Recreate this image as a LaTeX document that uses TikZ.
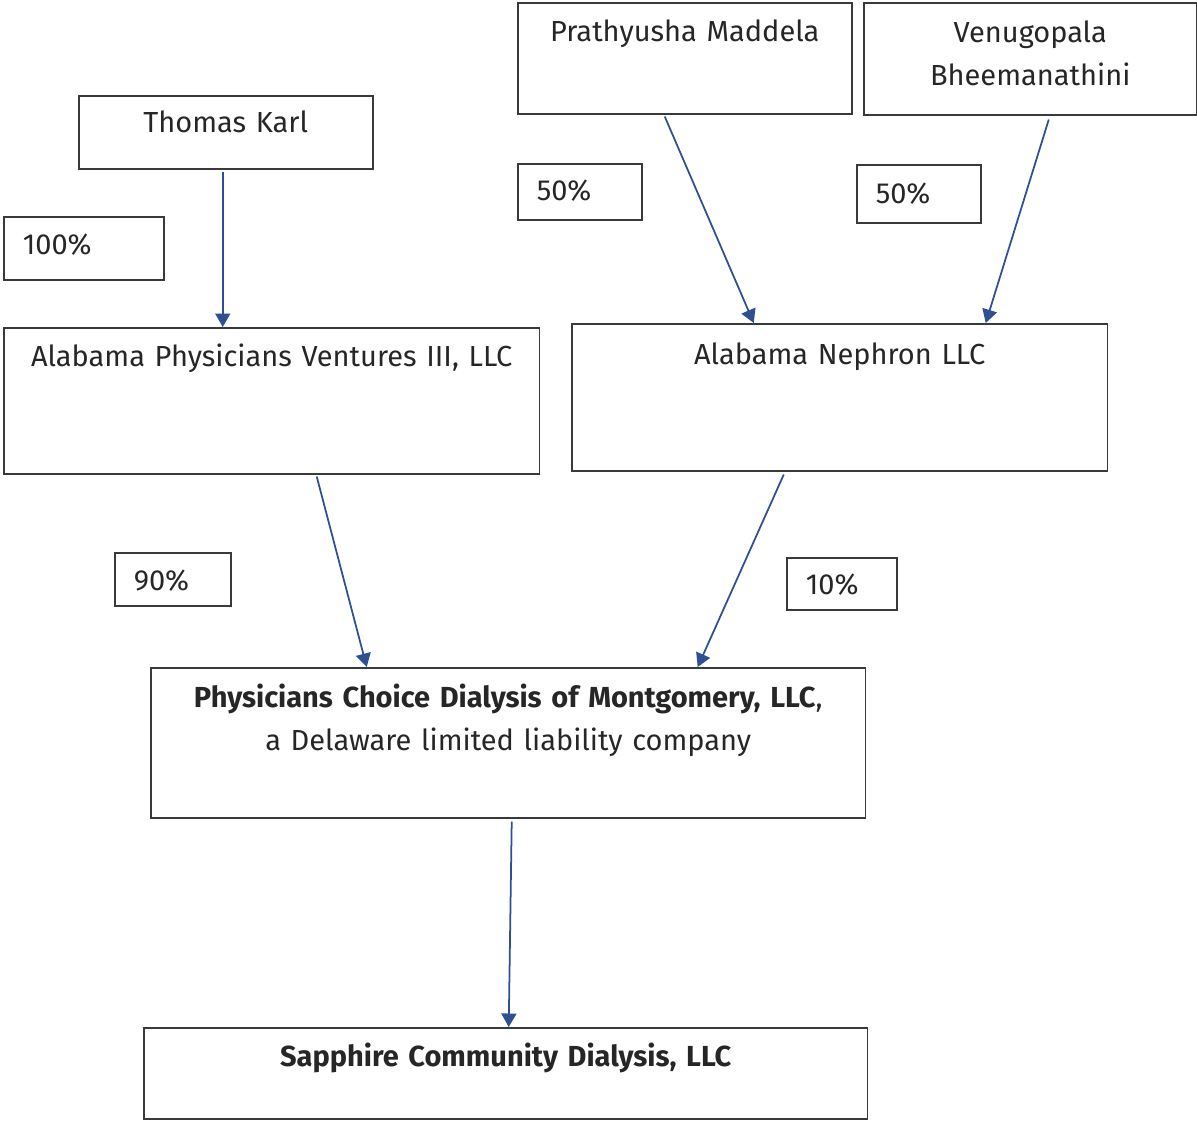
\documentclass[tikz,border=0pt]{standalone}
\usepackage{fontspec}
\setmainfont{Fira Sans}
\definecolor{arrowblue}{HTML}{2F4F94}
\definecolor{boxline}{HTML}{3A3A3A}
\usetikzlibrary{arrows.meta,positioning}

\begin{document}
\begin{tikzpicture}[
  x=0.02cm, y=-0.02cm,
  box/.style={draw=boxline, line width=0.9pt, anchor=north west,
    inner sep=0pt, align=center, text width=#1,
    font=\fontsize{16.5}{24.5}\selectfont, text=black!85},
  pct/.style={draw=boxline, line width=0.9pt, anchor=north west,
    inner xsep=0.38cm, inner ysep=0pt, align=left, text width=#1,
    font=\fontsize{16.5}{24.5}\selectfont, text=black!85},
  arr/.style={-{Triangle[length=0.27cm,width=0.3cm]}, line width=1pt, draw=arrowblue, fill=arrowblue}
]
  \useasboundingbox (0,0) rectangle (1197,1120);

  % Owners
  \node[box=5.88cm, text height=0.74cm, text depth=0.72cm] (karl) at (78,95) {Thomas Karl};
  \node[box=6.68cm, text height=0.78cm, text depth=1.44cm] (maddela) at (517,2) {Prathyusha Maddela};
  \node[box=6.66cm, text height=0.80cm, text depth=1.44cm] (bheem) at (863,2) {Venugopala\\Bheemanathini};

  % Percentages
  \node[pct=2.44cm, text height=0.76cm, text depth=0.50cm] (p100) at (3,216) {100\%};
  \node[pct=1.72cm, text height=0.74cm, text depth=0.38cm] (p50a) at (517,163) {50\%};
  \node[pct=1.72cm, text height=0.78cm, text depth=0.38cm] (p50b) at (856,164) {50\%};
  \node[pct=1.56cm, text height=0.76cm, text depth=0.30cm] (p90) at (114,552) {90\%};
  \node[pct=1.44cm, text height=0.74cm, text depth=0.30cm] (p10) at (786,557) {10\%};

  % Holding companies
  \node[box=10.72cm, text height=0.78cm, text depth=2.14cm] (apv) at (3,327) {Alabama Physicians Ventures III, LLC};
  \node[box=10.72cm, text height=0.82cm, text depth=2.12cm] (nephron) at (571,323) {Alabama Nephron LLC};

  % Operating companies
  \node[box=14.30cm, text height=0.80cm, text depth=2.20cm] (pcd) at (150,667)
    {\textbf{Physicians Choice Dialysis of Montgomery, LLC},\\a Delaware limited liability company};
  \node[box=14.48cm, text height=0.78cm, text depth=1.04cm] (sapphire) at (143,1027) {\textbf{Sapphire Community Dialysis, LLC}};

  % Arrows
  \draw[arr] ([xshift=-0.06cm,yshift=-0.04cm]karl.south) -- ([xshift=-0.06cm]karl.south |- apv.north);
  \draw[arr] ([xshift=-0.40cm,yshift=-0.04cm]maddela.south) -- ([xshift=-1.72cm]nephron.north);
  \draw[arr] ([xshift=0.37cm,yshift=-0.08cm]bheem.south) -- ([xshift=2.92cm]nephron.north);
  \draw[arr] ([xshift=0.90cm,yshift=-0.04cm]apv.south) -- ([xshift=-2.83cm]pcd.north);
  \draw[arr] ([xshift=-1.12cm,yshift=-0.06cm]nephron.south) -- ([xshift=3.79cm]pcd.north);
  \draw[arr] ([xshift=0.07cm,yshift=-0.06cm]pcd.south) -- ([xshift=0.06cm]sapphire.north);
\end{tikzpicture}
\end{document}
